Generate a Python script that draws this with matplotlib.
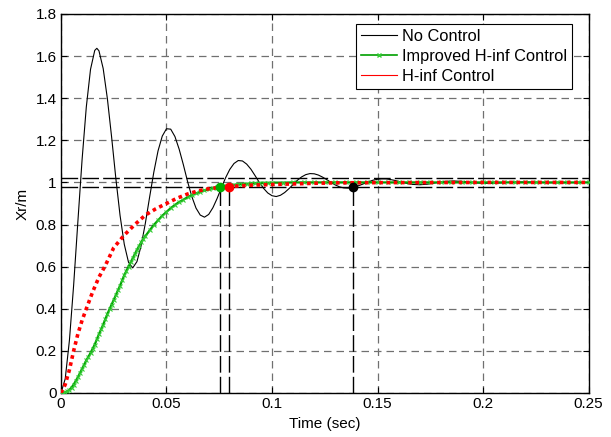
import matplotlib
matplotlib.use('Agg')
import matplotlib.pyplot as plt
from matplotlib.lines import Line2D

plt.rcParams['font.family'] = ['Liberation Sans', 'DejaVu Sans']

# No Control response
t_nc = [0, 0.002, 0.004, 0.006, 0.008, 0.010, 0.012, 0.014, 0.016, 0.017, 0.018, 0.020,
        0.022, 0.024, 0.026, 0.028, 0.030, 0.032, 0.034, 0.036, 0.038, 0.040, 0.042, 0.044,
        0.046, 0.048, 0.050, 0.052, 0.054, 0.056, 0.058, 0.060, 0.062, 0.064, 0.066, 0.068,
        0.070, 0.072, 0.074, 0.076, 0.078, 0.080, 0.082, 0.084, 0.086, 0.088, 0.090, 0.092,
        0.094, 0.096, 0.098, 0.100, 0.102, 0.104, 0.106, 0.108, 0.110, 0.112, 0.114, 0.116,
        0.118, 0.120, 0.122, 0.124, 0.126, 0.128, 0.130, 0.132, 0.134, 0.136, 0.138, 0.140,
        0.142, 0.144, 0.146, 0.148, 0.150, 0.152, 0.154, 0.156, 0.158, 0.160, 0.162, 0.166,
        0.170, 0.174, 0.178, 0.182, 0.186, 0.190, 0.195, 0.200, 0.205, 0.210, 0.215, 0.220,
        0.225, 0.230, 0.240, 0.250]
x_nc = [0, 0.067, 0.250, 0.512, 0.813, 1.108, 1.358, 1.537, 1.627, 1.637, 1.625, 1.541,
        1.397, 1.215, 1.019, 0.843, 0.706, 0.621, 0.594, 0.624, 0.700, 0.807, 0.930, 1.049,
        1.150, 1.220, 1.255, 1.253, 1.218, 1.158, 1.084, 1.004, 0.933, 0.878, 0.845, 0.835,
        0.848, 0.880, 0.924, 0.974, 1.022, 1.062, 1.090, 1.104, 1.102, 1.087, 1.063, 1.032,
        1.000, 0.972, 0.950, 0.937, 0.933, 0.939, 0.952, 0.970, 0.990, 1.010, 1.026, 1.037,
        1.042, 1.041, 1.035, 1.025, 1.013, 1.000, 0.988, 0.979, 0.974, 0.973, 0.975, 0.981,
        0.988, 0.996, 1.004, 1.011, 1.015, 1.017, 1.017, 1.014, 1.010, 1.005, 1.000, 0.991,
        0.989, 0.992, 0.999, 1.005, 1.007, 1.005, 0.999, 0.996, 0.996, 0.999, 1.002, 1.002,
        1.001, 0.999, 0.999, 1.000]

# Improved H-inf Control
t_imp = [0, 0.001, 0.002, 0.003, 0.004, 0.005, 0.006, 0.007, 0.008, 0.009, 0.010, 0.011,
         0.012, 0.013, 0.014, 0.015, 0.016, 0.017, 0.018, 0.019, 0.020, 0.021, 0.022, 0.023,
         0.024, 0.025, 0.026, 0.027, 0.028, 0.029, 0.030, 0.031, 0.032, 0.033, 0.034, 0.035,
         0.036, 0.037, 0.038, 0.039, 0.040, 0.042, 0.044, 0.046,
         0.048, 0.050, 0.052, 0.054, 0.056, 0.058, 0.060, 0.062, 0.064, 0.066, 0.068, 0.070,
         0.072, 0.074, 0.076, 0.078, 0.080, 0.082, 0.084, 0.086, 0.088, 0.090, 0.092, 0.094,
         0.096, 0.098, 0.100, 0.105, 0.110, 0.115, 0.120, 0.125, 0.130, 0.135, 0.140, 0.145,
         0.150, 0.155, 0.160, 0.165, 0.170, 0.175, 0.180, 0.185, 0.190, 0.195, 0.200, 0.205,
         0.210, 0.215, 0.220, 0.225, 0.230, 0.235, 0.240, 0.245, 0.250]
x_imp = [0, 0.001, 0.003, 0.008, 0.015, 0.026, 0.040, 0.057, 0.075, 0.095, 0.115, 0.135,
         0.155, 0.172, 0.190, 0.210, 0.230, 0.255, 0.280, 0.302, 0.325, 0.350, 0.375, 0.398,
         0.420, 0.442, 0.465, 0.488, 0.510, 0.535, 0.560, 0.580, 0.600, 0.620, 0.640, 0.660,
         0.680, 0.698, 0.715, 0.730, 0.745, 0.772, 0.798, 0.820,
         0.842, 0.860, 0.878, 0.893, 0.907, 0.918, 0.930, 0.940, 0.948, 0.955, 0.962, 0.968,
         0.973, 0.977, 0.981, 0.984, 0.987, 0.989, 0.991, 0.993, 0.994, 0.995, 0.996, 0.997,
         0.998, 0.998, 0.999, 0.999, 1.000, 1.000, 1.000, 1.000, 1.000, 1.000, 1.000, 1.000,
         1.000, 1.000, 1.000, 1.000, 1.000, 1.000, 1.000, 1.000, 1.000, 1.000, 1.000, 1.000,
         1.000, 1.000, 1.000, 1.000, 1.000, 1.000, 1.000, 1.000, 1.000]

# H-inf Control
t_hinf = [0, 0.002, 0.004, 0.006, 0.008, 0.010, 0.012, 0.015, 0.018, 0.021, 0.025, 0.030,
          0.035, 0.040, 0.045, 0.050, 0.055, 0.060, 0.065, 0.070, 0.075, 0.080, 0.085, 0.090,
          0.100, 0.110, 0.120, 0.130, 0.150, 0.200, 0.250]
x_hinf = [0, 0.040, 0.110, 0.200, 0.280, 0.345, 0.400, 0.480, 0.550, 0.605, 0.690, 0.750,
          0.800, 0.845, 0.875, 0.900, 0.925, 0.945, 0.960, 0.970, 0.976, 0.980, 0.984, 0.987,
          0.990, 0.993, 0.996, 0.998, 0.999, 1.000, 1.000]

# settling points (time, value)
settle_t = [0.0752, 0.0796, 0.1385]
settle_x = [0.98, 0.98, 0.98]
settle_col = ['#00b000', 'red', 'black']
band = [1.02, 0.98]

fig = plt.figure(figsize=(6.11, 4.37), dpi=100)
ax = fig.add_axes([0.0998, 0.1007, 0.8634, 0.8673])

ax.grid(True, color='#707070', linestyle=(0, (6, 4)), linewidth=0.9)
ax.set_axisbelow(True)

for b in band:
    ax.axhline(b, color='black', linestyle=(0, (12, 3)), linewidth=1.0, zorder=1.5)
for st, sx in zip(settle_t, settle_x):
    ax.plot([st, st], [0, sx], color='black', linestyle=(0, (12, 3)), linewidth=1.0, zorder=1.5)

ax.plot(t_nc, x_nc, color='black', linewidth=0.8, zorder=3)
ax.plot(t_imp, x_imp, color='#00a000', linewidth=1.6, marker='x', markersize=3,
        markeredgecolor='#33cc33', markeredgewidth=0.8, zorder=4)
ax.plot(t_hinf, x_hinf, color='red', linestyle=(0, (1, 1)), linewidth=2.6, zorder=5)

for st, sx, c in zip(settle_t, settle_x, settle_col):
    ax.plot(st, sx, 'o', color=c, markersize=6, zorder=6)

ax.set_xlim(0, 0.25)
ax.set_ylim(0, 1.8)
ax.set_xticks([0, 0.05, 0.1, 0.15, 0.2, 0.25])
ax.set_xticklabels(['0', '0.05', '0.1', '0.15', '0.2', '0.25'])
ax.set_yticks([0, 0.2, 0.4, 0.6, 0.8, 1, 1.2, 1.4, 1.6, 1.8])
ax.set_yticklabels(['0', '0.2', '0.4', '0.6', '0.8', '1', '1.2', '1.4', '1.6', '1.8'])
ax.tick_params(direction='in', top=True, right=True, length=4, labelsize=11, pad=3)
for s in ax.spines.values():
    s.set_linewidth(1.0)

ax.set_xlabel('Time (sec)', fontsize=11, labelpad=4)
ax.set_ylabel('Xr/m', fontsize=11, labelpad=4)

handles = [Line2D([], [], color='black', linewidth=0.8),
           Line2D([], [], color='#00a000', linewidth=1.2, marker='x', markersize=3,
                  markeredgecolor='#33cc33', markevery=[0, -1]),
           Line2D([], [], color='red', linewidth=0.8)]
labels = ['No Control', 'Improved H-inf Control', 'H-inf Control']
leg = ax.legend(handles, labels, loc='upper right', bbox_to_anchor=(0.969, 0.974),
                fontsize=11.8, frameon=True, fancybox=False, edgecolor='black',
                framealpha=1, handlelength=2.2, handletextpad=0.3, borderpad=0.3,
                labelspacing=0.3, borderaxespad=0)
leg.get_frame().set_linewidth(0.8)

fig.savefig('out.png', dpi=100)
